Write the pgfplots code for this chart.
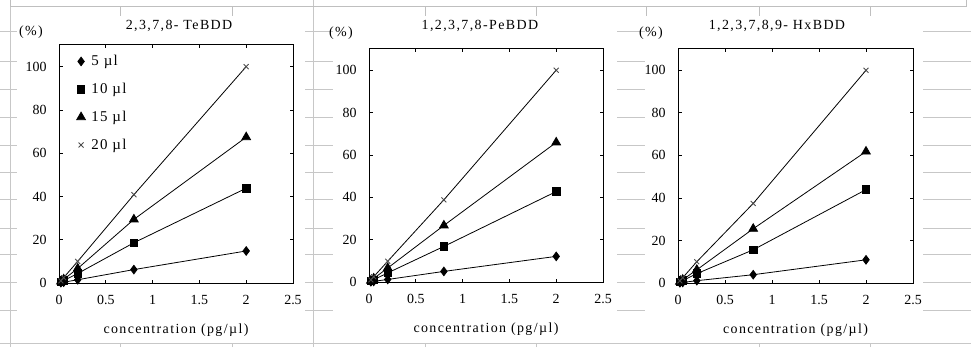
\documentclass[border=0pt]{standalone}
\usepackage{fontspec}
\setmainfont{Liberation Serif}
\usepackage{pgfplots}
\pgfplotsset{compat=1.18}
\newcommand{\tickfont}{\fontsize{14}{16}\selectfont}
\newcommand{\labfont}{\fontsize{14}{16}\selectfont\addfontfeature{LetterSpace=10}}
\newcommand{\legfont}{\fontsize{15}{17}\selectfont\addfontfeature{LetterSpace=8}}
\pgfplotsset{
  panel/.style={
    scale only axis,
    xmin=0,xmax=2.5,ymin=0,ymax=110,
    xtick={0,0.5,1,1.5,2,2.5},
    ytick={0,20,40,60,80,100},
    tick align=inside,
    major tick length=3.5bp,
    axis line style={black,line width=1bp},
    tick style={black,line width=0.8bp},
    /pgf/number format/assume math mode=true,
    ticklabel style={font=\tickfont},
    xticklabel style={yshift=-9bp},
    yticklabel style={xshift=-9bp},
    xlabel={concentration (pg/µl)},
    xlabel style={font=\labfont, at={(axis description cs:0.5,0)}, anchor=center, yshift=-47bp},
    ylabel={(\%)},
    ylabel style={font=\labfont, rotate=-90, anchor=center},
    title style={font=\labfont, anchor=center},
    axis background/.style={fill=white},
    legend image code/.code={\draw[##1] plot coordinates {(0bp,0bp)};},
  },
  s5/.style={black, line width=0.8bp, mark=diamond*, mark size=4.3bp, mark options={solid,fill=black}},
  s10/.style={black, line width=0.8bp, mark=square*, mark size=3.8bp, mark options={solid,fill=black}},
  s15/.style={black, line width=0.8bp, mark=triangle*, mark size=5bp, mark options={solid,fill=black}},
  s20/.style={black, line width=0.8bp, mark=x, mark size=3.5bp, mark options={solid,draw=black!70,line width=0.9bp}},
}
\begin{document}
\begin{tikzpicture}[x=1bp,y=1bp]
\useasboundingbox (0,0) rectangle (971,347);
% spreadsheet background
\foreach \r in {31.7,61.7,89,117,145,172,199,228,254,282,310,343}
  \draw[black!22, line width=0.8bp] (0,{347-\r}) -- (971,{347-\r});
\draw[black!22, line width=0.8bp] (10,0) -- (10,347);
\draw[black!22, line width=0.8bp] (313,0) -- (313,347);
\fill[white] (17,5) rectangle (305,{347-15});
\fill[white] (333,5) rectangle (617,{347-15});
\fill[white] (645,5) rectangle (923,{347-15});
\foreach \c in {120,232,425,536,646,759,870}
  \draw[black!25, line width=0.8bp] (\c,{347-6.5}) -- (\c,{347-16});
\foreach \c in {120,232,425,536,759,870}
  \draw[black!22, line width=0.8bp] (\c,0) -- (\c,4);
\draw[black!25, line width=0.8bp] (10,347) -- (10,{347-6.5}) -- (966,{347-6.5}) -- (966,347);

% panel 1
\begin{axis}[panel, at={(59bp,64bp)}, anchor=south west, width=234bp, height=238bp,
  title={2,3,7,8- TeBDD}, title style={at={(axis description cs:0.513,1.055)}},
  ylabel style={at={(axis description cs:-0.12,1.055)}},
  legend style={at={(axis description cs:0.075,0.965)}, anchor=north west, draw=none, fill=none,
    font=\legfont, row sep=12bp, column sep=4bp, inner sep=0pt, cells={anchor=west}},
  legend entries={5 µl,10 µl,15 µl,20 µl}]
\addplot[s5] coordinates {(0.02,0.15) (0.05,0.37) (0.2,1.5) (0.8,6.2) (2,14.8)};
\addplot[s10] coordinates {(0.02,0.44) (0.05,1.1) (0.2,4.4) (0.8,18.6) (2,43.8)};
\addplot[s15] coordinates {(0.02,0.67) (0.05,1.7) (0.2,6.7) (0.8,29.4) (2,67.4)};
\addplot[s20] coordinates {(0.02,1.0) (0.05,2.5) (0.2,10) (0.8,40.8) (2,100)};
\end{axis}

% panel 2
\begin{axis}[panel, at={(369bp,65bp)}, anchor=south west, width=234bp, height=233bp,
  title={1,2,3,7,8-PeBDD}, title style={at={(axis description cs:0.474,1.073)}},
  ylabel style={at={(axis description cs:-0.12,1.069)}}]
\addplot[s5] coordinates {(0.02,0.12) (0.05,0.3) (0.2,1.2) (0.8,5.0) (2,12.1)};
\addplot[s10] coordinates {(0.02,0.43) (0.05,1.07) (0.2,4.3) (0.8,16.8) (2,42.7)};
\addplot[s15] coordinates {(0.02,0.66) (0.05,1.65) (0.2,6.6) (0.8,26.7) (2,65.9)};
\addplot[s20] coordinates {(0.02,1.0) (0.05,2.5) (0.2,9.8) (0.8,38.8) (2,100)};
\end{axis}

% panel 3
\begin{axis}[panel, at={(678bp,64bp)}, anchor=south west, width=235bp, height=234bp,
  title={1,2,3,7,8,9- HxBDD}, title style={at={(axis description cs:0.421,1.073)}},
  ylabel style={at={(axis description cs:-0.115,1.068)}}]
\addplot[s5] coordinates {(0.02,0.11) (0.05,0.27) (0.2,1.1) (0.8,3.9) (2,10.9)};
\addplot[s10] coordinates {(0.02,0.44) (0.05,1.1) (0.2,4.4) (0.8,15.6) (2,43.9)};
\addplot[s15] coordinates {(0.02,0.62) (0.05,1.55) (0.2,6.2) (0.8,25.5) (2,61.8)};
\addplot[s20] coordinates {(0.02,1.0) (0.05,2.5) (0.2,10) (0.8,37.4) (2,100)};
\end{axis}
\end{tikzpicture}
\end{document}
